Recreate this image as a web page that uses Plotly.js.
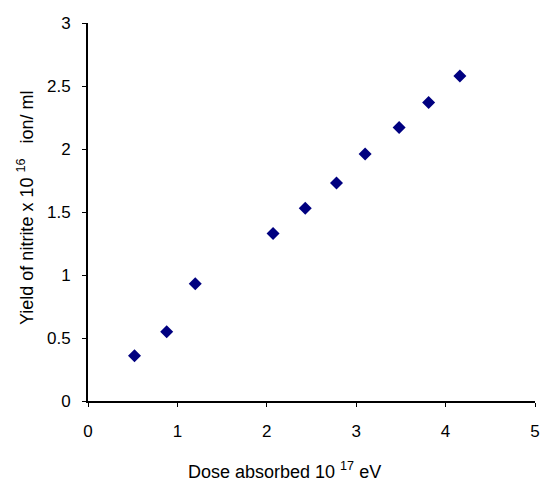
<!DOCTYPE html>
<html>
<head>
<meta charset="utf-8">
<script src="https://cdn.plot.ly/plotly-3.0.1.min.js"></script>
<style>html,body{margin:0;padding:0;background:#fff;}#chart{width:542px;height:485px;}</style>
</head>
<body>
<div id="chart"></div>
<script>
const dose = [0.52, 0.88, 1.20, 2.07, 2.43, 2.78, 3.10, 3.48, 3.81, 4.16];
const yieldNitrite = [0.36, 0.55, 0.93, 1.33, 1.53, 1.73, 1.96, 2.17, 2.37, 2.58];
const xTicks = [0, 1, 2, 3, 4, 5];
const yTicks = [0, 0.5, 1, 1.5, 2, 2.5, 3];
const xTitle = 'Dose absorbed 10 <sup>17</sup> eV';
const yTitle = 'Yield of nitrite x 10 <sup>16</sup>   ion/ ml';

const trace = {
  x: dose, y: yieldNitrite, type: 'scatter', mode: 'markers',
  marker: {symbol: 'diamond', color: '#000080', size: 10},
  showlegend: false, cliponaxis: false
};
const fam = '"Liberation Sans", Arial, sans-serif';
const layout = {
  width: 542, height: 485,
  margin: {l: 88, r: 7, t: 23, b: 84},
  paper_bgcolor: '#fff', plot_bgcolor: '#fff',
  font: {family: fam, color: '#000'},
  xaxis: {
    range: [0, 5], tickvals: xTicks, ticktext: xTicks.map(String),
    showgrid: false, zeroline: false, showline: true, linecolor: '#000', linewidth: 2,
    ticks: 'outside', ticklen: 4, tickwidth: 1, tickcolor: '#000',
    tickfont: {size: 17, family: fam, color: '#000'}, ticklabelstandoff: 10
  },
  yaxis: {
    range: [0, 3], tickvals: yTicks, ticktext: yTicks.map(String),
    showgrid: false, zeroline: false, showline: true, linecolor: '#000', linewidth: 2,
    ticks: 'outside', ticklen: 4, tickwidth: 1, tickcolor: '#000',
    tickfont: {size: 17, family: fam, color: '#000'}, ticklabelstandoff: 8
  },
  annotations: [
    {text: xTitle, xref: 'paper', yref: 'paper', x: (284 - 88) / 447, y: (401 - 470) / 378,
     xanchor: 'center', yanchor: 'middle', showarrow: false, font: {size: 18, family: fam, color: '#000'}},
    {text: yTitle, xref: 'paper', yref: 'paper', x: (25 - 88) / 447, y: (401 - 208) / 378,
     xanchor: 'center', yanchor: 'middle', textangle: -90, showarrow: false, font: {size: 18, family: fam, color: '#000'}}
  ]
};
Plotly.newPlot('chart', [trace], layout, {staticPlot: true, displayModeBar: false});
</script>
</body>
</html>
